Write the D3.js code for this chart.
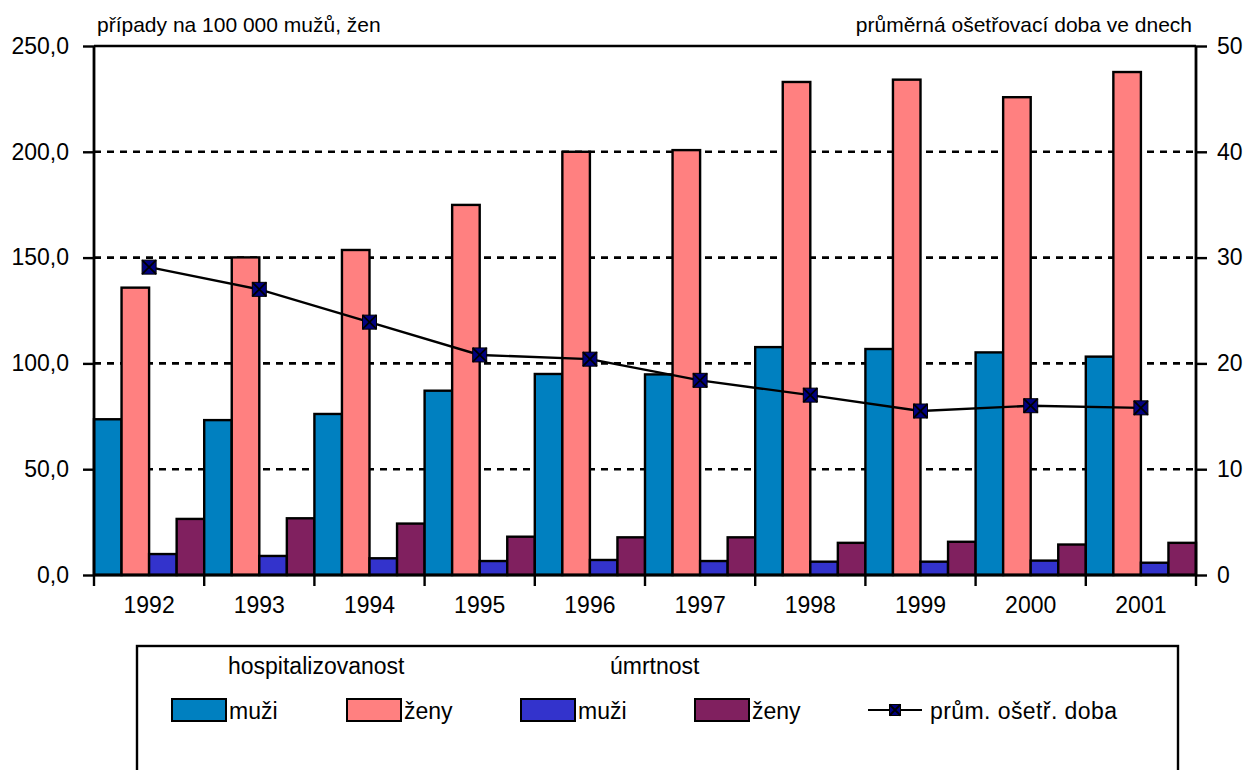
<!DOCTYPE html>
<html><head><meta charset="utf-8">
<script src="https://cdn.jsdelivr.net/npm/d3@7"></script>
<style>
html,body{margin:0;padding:0;background:#fff;}
svg text{font-family:"Liberation Sans",Arial,sans-serif;fill:#000;}
</style></head>
<body>
<svg id="chart" width="1246" height="770"></svg>
<script>
const years = ["1992","1993","1994","1995","1996","1997","1998","1999","2000","2001"];
const hospMuzi = [73.6, 73.2, 76.1, 87.1, 95.0, 94.8, 107.7, 106.8, 105.2, 103.2];
const hospZeny = [135.8, 150.1, 153.6, 174.9, 200.0, 200.8, 233.0, 234.1, 225.8, 237.7];
const umrMuzi = [9.9, 9.0, 7.9, 6.6, 7.1, 6.6, 6.3, 6.3, 6.8, 5.8];
const umrZeny = [26.5, 26.8, 24.3, 18.1, 17.8, 17.8, 15.2, 15.7, 14.4, 15.2];
const prumDoba = [29.1, 27.0, 23.9, 20.8, 20.4, 18.4, 17.0, 15.5, 16.0, 15.8];
const leftTicks = [0, 50, 100, 150, 200, 250];
const rightTicks = [0, 10, 20, 30, 40, 50];
const seriesNames = ["hospMuzi","hospZeny","umrMuzi","umrZeny"];
const seriesColors = ["#0080C0","#FF8080","#3333CC","#80205F"];
const leftTitle = "případy na 100 000 mužů, žen";
const rightTitle = "průměrná ošetřovací doba ve dnech";
const legendGroups = ["hospitalizovanost","úmrtnost"];
const legendLabels = ["muži","ženy","muži","ženy","prům. ošetř. doba"];

const seriesData = {hospMuzi, hospZeny, umrMuzi, umrZeny};
const svg = d3.select("#chart");
const L = 94, R = 1196, T = 46, B = 575;

const x = d3.scaleBand().domain(years).range([L, R]).padding(0);
const xs = d3.scaleBand().domain(seriesNames).range([0, x.bandwidth()]).padding(0);
const yL = d3.scaleLinear().domain([0, 250]).range([B, T]);
const yR = d3.scaleLinear().domain([0, 50]).range([B, T]);
const fmt = v => d3.format(".1f")(v).replace(".", ",");

// gridlines
svg.append("g").selectAll("line").data(leftTicks.filter(t => t > 0 && t < 250)).join("line")
  .attr("x1", L).attr("x2", R).attr("y1", d => yL(d)).attr("y2", d => yL(d))
  .attr("stroke", "#000").attr("stroke-width", 2.6).attr("stroke-dasharray", "7,6");
svg.append("line").attr("x1", L).attr("x2", R).attr("y1", yL(250)).attr("y2", yL(250))
  .attr("stroke", "#000").attr("stroke-width", 2.4);

// bars
const groups = svg.append("g").selectAll("g").data(years).join("g")
  .attr("transform", d => `translate(${x(d)},0)`);
groups.selectAll("rect").data((d, i) => seriesNames.map((s, k) => ({s, k, v: seriesData[s][i]}))).join("rect")
  .attr("x", d => xs(d.s)).attr("width", xs.bandwidth())
  .attr("y", d => yL(d.v)).attr("height", d => yL(0) - yL(d.v))
  .attr("fill", d => seriesColors[d.k]).attr("stroke", "#000").attr("stroke-width", 2.4);

// axes
const axL = svg.append("g").attr("transform", `translate(${L},0)`)
  .call(d3.axisLeft(yL).tickValues(leftTicks).tickSize(11).tickPadding(14).tickFormat(fmt));
const axR = svg.append("g").attr("transform", `translate(${R},0)`)
  .call(d3.axisRight(yR).tickValues(rightTicks).tickSize(11).tickPadding(10).tickFormat(d3.format("d")));
const axB = svg.append("g").attr("transform", `translate(0,${B})`)
  .call(d3.axisBottom(x).tickSize(0).tickPadding(22));
axB.append("g").selectAll("line").data(d3.range(years.length + 1)).join("line")
  .attr("x1", i => L + i * x.bandwidth()).attr("x2", i => L + i * x.bandwidth())
  .attr("y1", 0).attr("y2", 11).attr("stroke", "#000").attr("stroke-width", 2.4);
[axL, axR, axB].forEach(a => {
  a.selectAll(".domain").attr("stroke", "#000").attr("stroke-width", 2.8);
  a.selectAll(".tick line").attr("stroke", "#000").attr("stroke-width", 2.4);
  a.selectAll("text").attr("font-size", 23).attr("font-family", "Liberation Sans, Arial, sans-serif").attr("fill", "#000");
});
axL.select(".domain").attr("d", `M0,${B}V${T}`);
axR.select(".domain").attr("d", `M0,${B}V${T}`);
axB.select(".domain").attr("d", `M${L},0H${R}`);

// line series
const lineGen = d3.line().x((d, i) => x(years[i]) + x.bandwidth() / 2).y(d => yR(d));
svg.append("path").datum(prumDoba).attr("d", lineGen).attr("fill", "none")
  .attr("stroke", "#000").attr("stroke-width", 2.4);
function marker(g, cx, cy, s) {
  const h = s / 2;
  g.append("rect").attr("x", cx - h).attr("y", cy - h).attr("width", s).attr("height", s)
    .attr("fill", "#000080").attr("stroke", "#000").attr("stroke-width", 1);
  g.append("path").attr("d", `M${cx - h},${cy - h}L${cx + h},${cy + h}M${cx + h},${cy - h}L${cx - h},${cy + h}`)
    .attr("stroke", "#000").attr("stroke-width", 1.8);
}
const mg = svg.append("g");
prumDoba.forEach((v, i) => marker(mg, x(years[i]) + x.bandwidth() / 2, yR(v), 14));

// titles
svg.append("text").attr("x", 97).attr("y", 32).attr("font-size", 21).text(leftTitle);
svg.append("text").attr("x", 1192).attr("y", 32).attr("font-size", 21).attr("text-anchor", "end").text(rightTitle);

// legend
const lg = svg.append("g");
lg.append("rect").attr("x", 137).attr("y", 646).attr("width", 1041).attr("height", 140)
  .attr("fill", "#fff").attr("stroke", "#000").attr("stroke-width", 2.4);
lg.append("text").attr("x", 228).attr("y", 674).attr("font-size", 23).text(legendGroups[0]);
lg.append("text").attr("x", 610).attr("y", 674).attr("font-size", 23).text(legendGroups[1]);
const swX = [172, 347, 521, 695];
swX.forEach((sx, k) => {
  lg.append("rect").attr("x", sx).attr("y", 699).attr("width", 54).attr("height", 22)
    .attr("fill", seriesColors[k]).attr("stroke", "#000").attr("stroke-width", 2);
  lg.append("text").attr("x", sx + 57).attr("y", 719).attr("font-size", 23).text(legendLabels[k]);
});
lg.append("line").attr("x1", 868).attr("x2", 922).attr("y1", 710).attr("y2", 710)
  .attr("stroke", "#000").attr("stroke-width", 2.2);
marker(lg, 895, 710, 11);
lg.append("text").attr("x", 930).attr("y", 719).attr("font-size", 23).attr("textLength", 187).text(legendLabels[4]);
</script>
</body></html>
